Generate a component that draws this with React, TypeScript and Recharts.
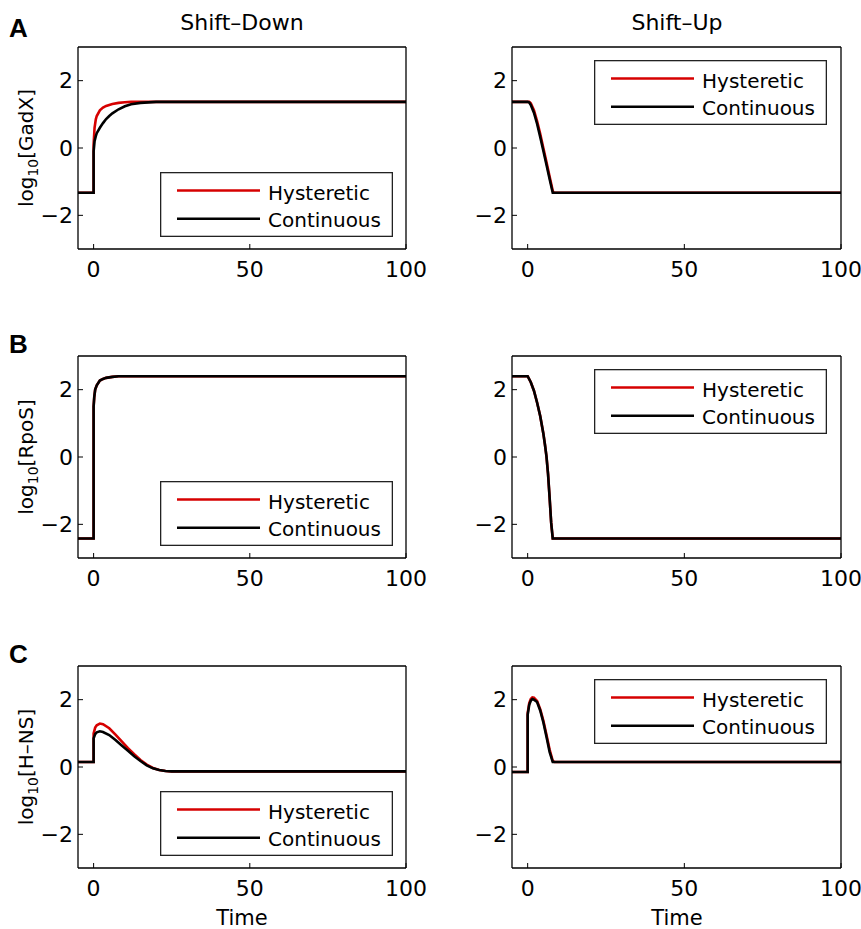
import { Legend, Line, LineChart, XAxis, YAxis } from "recharts";

const FONT = '"DejaVu Sans", Verdana, sans-serif';
const RED = "#d60000";
const BLACK = "#000000";

const xTicks = [0, 50, 100];
const yTicks = [-2, 0, 2];
const xDomain: [number, number] = [-5, 100];
const yDomain: [number, number] = [-3, 3];
const seriesNames = ["Hysteretic", "Continuous"];
const columnTitles = ["Shift–Down", "Shift–Up"];
const panelLetters = ["A", "B", "C"];
const species = ["GadX", "RpoS", "H–NS"];

// GadX, shift-down
const gadxDownT = [-5, 0, 0, 0.3, 0.7, 1, 2, 3, 4, 5, 6, 8, 10, 12, 15, 20, 25, 100];
const gadxDownHyst = [-1.33, -1.33, 0.1, 0.6, 0.85, 0.95, 1.12, 1.2, 1.25, 1.28, 1.31, 1.34, 1.36, 1.37, 1.37, 1.37, 1.37, 1.37];
const gadxDownCont = [-1.33, -1.33, -0.1, 0.2, 0.35, 0.44, 0.6, 0.74, 0.86, 0.95, 1.03, 1.15, 1.24, 1.3, 1.34, 1.37, 1.37, 1.37];

// GadX, shift-up
const gadxUpT = [-5, 0, 0.5, 1, 2, 3, 4, 5, 6, 7, 8, 8.3, 100];
const gadxUpHyst = [1.37, 1.37, 1.37, 1.33, 1.12, 0.8, 0.42, 0.0, -0.42, -0.85, -1.27, -1.33, -1.33];
const gadxUpCont = [1.37, 1.37, 1.35, 1.28, 1.05, 0.72, 0.33, -0.08, -0.5, -0.92, -1.33, -1.33, -1.33];

// RpoS, shift-down
const rposDownT = [-5, 0, 0, 0.2, 0.5, 1, 2, 3, 4, 6, 8, 10, 100];
const rposDownHyst = [-2.42, -2.42, 1.5, 1.78, 2.0, 2.13, 2.27, 2.32, 2.35, 2.38, 2.4, 2.4, 2.4];
const rposDownCont = [-2.42, -2.42, 1.5, 1.78, 2.0, 2.13, 2.27, 2.32, 2.35, 2.38, 2.4, 2.4, 2.4];

// RpoS, shift-up
const rposUpT = [-5, 0, 1, 2, 3, 4, 5, 5.5, 6, 6.5, 7, 7.5, 8, 100];
const rposUpHyst = [2.4, 2.4, 2.22, 1.97, 1.62, 1.22, 0.7, 0.38, 0.02, -0.5, -1.2, -1.95, -2.42, -2.42];
const rposUpCont = [2.4, 2.4, 2.22, 1.97, 1.62, 1.22, 0.7, 0.38, 0.02, -0.5, -1.2, -1.95, -2.42, -2.42];

// H-NS, shift-down
const hnsDownT = [-5, 0, 0, 0.5, 1, 2, 3, 5, 7, 9, 11, 13, 15, 17, 19, 21, 23, 25, 100];
const hnsDownHyst = [0.15, 0.15, 1.0, 1.17, 1.24, 1.29, 1.27, 1.15, 0.96, 0.76, 0.56, 0.38, 0.21, 0.07, -0.03, -0.09, -0.12, -0.13, -0.13];
const hnsDownCont = [0.15, 0.15, 0.85, 0.98, 1.03, 1.06, 1.04, 0.95, 0.8, 0.64, 0.48, 0.32, 0.18, 0.05, -0.04, -0.09, -0.12, -0.13, -0.13];

// H-NS, shift-up
const hnsUpT = [-5, 0, 0, 0.5, 1, 1.5, 2, 3, 4, 5, 6, 7, 8, 8.5, 100];
const hnsUpHyst = [-0.15, -0.15, 1.6, 1.9, 2.02, 2.07, 2.06, 1.96, 1.72, 1.38, 0.96, 0.52, 0.18, 0.15, 0.15];
const hnsUpCont = [-0.15, -0.15, 1.55, 1.85, 1.97, 2.02, 2.0, 1.93, 1.68, 1.33, 0.9, 0.45, 0.15, 0.15, 0.15];

type Pt = { t: number; v: number };
const zip = (t: number[], v: number[]): Pt[] => t.map((x, i) => ({ t: x, v: v[i] }));

const panels = [
  [zip(gadxDownT, gadxDownHyst), zip(gadxDownT, gadxDownCont), zip(gadxUpT, gadxUpHyst), zip(gadxUpT, gadxUpCont)],
  [zip(rposDownT, rposDownHyst), zip(rposDownT, rposDownCont), zip(rposUpT, rposUpHyst), zip(rposUpT, rposUpCont)],
  [zip(hnsDownT, hnsDownHyst), zip(hnsDownT, hnsDownCont), zip(hnsUpT, hnsUpHyst), zip(hnsUpT, hnsUpCont)],
];

const ROW_TOP = [0, 309, 619];
const COL_LEFT = [0, 430];
const COL_W = [430, 431];
// axes are 1px thick, so the plot box sits 1px inside each margin
const MARGINS = [
  { top: 46, bottom: 60, left: 77, right: 23 },
  { top: 46, bottom: 60, left: 81, right: 19 },
];
const LEGEND_POS = [
  { left: 160, top: 172 },
  { left: 164, top: 60 },
];

const minus = (v: number) => String(v).replace("-", "\u2212");

function BoxLegend({ payload }: { payload?: Array<{ value: string; color: string }> }) {
  if (!payload) return null;
  const items = [...payload].sort((a, b) => seriesNames.indexOf(a.value) - seriesNames.indexOf(b.value));
  return (
    <svg width={233} height={65} style={{ display: "block" }}>
      <rect x={0.65} y={0.65} width={231.7} height={63.7} fill="#fff" stroke="#222" strokeWidth={1.3} />
      {items.map((p, i) => (
        <g key={p.value}>
          <line x1={17} x2={100} y1={18.5 + i * 28.3} y2={18.5 + i * 28.3} stroke={p.color} strokeWidth={2.5} />
          <text x={108} y={27.5 + i * 27.5} fontSize={20} fontFamily={FONT} fill="#000">
            {p.value}
          </text>
        </g>
      ))}
    </svg>
  );
}

function Panel({ row, col }: { row: number; col: number }) {
  const [h0, c0, h1, c1] = panels[row];
  const hyst = col === 0 ? h0 : h1;
  const cont = col === 0 ? c0 : c1;
  const tickStyle = { fontSize: 22, fill: "#000", fontFamily: FONT };
  const axisLine = { stroke: "#000", strokeWidth: 1.3 };
  const tickLine = { stroke: "#000", strokeWidth: 1 };
  return (
    <div style={{ position: "absolute", left: COL_LEFT[col], top: ROW_TOP[row] }}>
      <LineChart width={COL_W[col]} height={310} margin={MARGINS[col]} style={{ fontFamily: FONT }}>
        <XAxis
          xAxisId={0}
          type="number"
          dataKey="t"
          domain={xDomain}
          ticks={xTicks}
          height={1}
          tickSize={-5}
          tickMargin={17}
          tick={tickStyle}
          axisLine={axisLine}
          tickLine={tickLine}
          allowDataOverflow
        />
        <XAxis
          xAxisId="top"
          orientation="top"
          type="number"
          dataKey="t"
          domain={xDomain}
          ticks={xTicks}
          height={1}
          tickSize={-5}
          tick={false}
          axisLine={axisLine}
          tickLine={tickLine}
          allowDataOverflow
        />
        <YAxis
          yAxisId={0}
          type="number"
          domain={yDomain}
          ticks={yTicks}
          width={1}
          tickSize={-5}
          tickMargin={10}
          tick={tickStyle}
          tickFormatter={minus}
          axisLine={axisLine}
          tickLine={tickLine}
          allowDataOverflow
        />
        <YAxis
          yAxisId="right"
          orientation="right"
          type="number"
          domain={yDomain}
          ticks={yTicks}
          width={1}
          tickSize={-5}
          tick={false}
          axisLine={axisLine}
          tickLine={tickLine}
          allowDataOverflow
        />
        <Legend
          layout="vertical"
          align="center"
          verticalAlign="middle"
          wrapperStyle={{ left: LEGEND_POS[col].left, top: LEGEND_POS[col].top, width: 233, height: 65 }}
          content={(props: any) => <BoxLegend payload={props.payload} />}
        />
        <Line
          data={hyst}
          dataKey="v"
          name={seriesNames[0]}
          type="linear"
          stroke={RED}
          strokeWidth={2.6}
          dot={false}
          activeDot={false}
          isAnimationActive={false}
        />
        <Line
          data={cont}
          dataKey="v"
          name={seriesNames[1]}
          type="linear"
          stroke={BLACK}
          strokeWidth={2.6}
          dot={false}
          activeDot={false}
          isAnimationActive={false}
        />
      </LineChart>
    </div>
  );
}

export default function App() {
  const plotCx = [242, 677];
  const plotCy = [148, 457, 767];
  const letterBase = [37, 353, 663];
  return (
    <div style={{ position: "absolute", left: 0, top: 0, width: 861, height: 929, background: "#fff", overflow: "hidden" }}>
      {[0, 1, 2].map((r) => [0, 1].map((c) => <Panel key={`${r}-${c}`} row={r} col={c} />))}
      <svg width={861} height={929} style={{ position: "absolute", left: 0, top: 0, pointerEvents: "none" }}>
        {columnTitles.map((t, i) => (
          <text key={t} x={plotCx[i]} y={29.5} textAnchor="middle" fontSize={22} fontFamily={FONT} fill="#000">
            {t}
          </text>
        ))}
        {panelLetters.map((l, i) => (
          <text key={l} x={9} y={letterBase[i]} fontSize={26} fontWeight="bold" fontFamily='"Liberation Sans", Arial, sans-serif' fill="#000">
            {l}
          </text>
        ))}
        {species.map((s, i) => (
          <text
            key={s}
            x={33}
            y={plotCy[i]}
            transform={`rotate(-90 33 ${plotCy[i]})`}
            textAnchor="middle"
            fontSize={20}
            fontFamily={FONT}
            fill="#000"
          >
            log<tspan dy={5} fontSize={14}>10</tspan>
            <tspan dy={-5}>[{s}]</tspan>
          </text>
        ))}
        {plotCx.map((x) => (
          <text key={x} x={x} y={925} textAnchor="middle" fontSize={21} fontFamily={FONT} fill="#000">
            Time
          </text>
        ))}
      </svg>
    </div>
  );
}
